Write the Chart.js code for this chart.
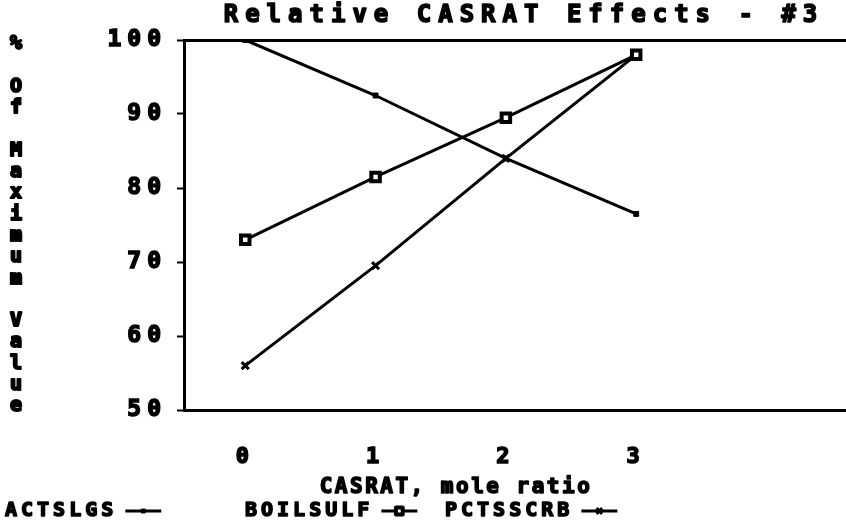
<!DOCTYPE html>
<html>
<head>
<meta charset="utf-8">
<script src="https://cdn.jsdelivr.net/npm/chart.js@4"></script>
<style>
html, body { margin: 0; padding: 0; background: #fff; }
#wrap { position: relative; width: 846px; height: 524px; }
</style>
</head>
<body>
<div id="wrap"><canvas id="casratChart" width="846" height="524"></canvas></div>
<script>
// Data
const casrat = [0, 1, 2, 3];
const actslgs = [100, 92.5, 84, 76.5];
const boilsulf = [73, 81.5, 89.5, 98];
const pctsscrb = [56, 69.5, 84, 98];
const xTicks = [0, 1, 2, 3];
const yTicks = [50, 60, 70, 80, 90, 100];
const chartTitle = 'Relative CASRAT Effects - #3';
const xTitle = 'CASRAT, mole ratio';
const yTitle = ['%', '', 'O', 'f', '', 'M', 'a', 'x', 'i', 'm', 'u', 'm', '', 'V', 'a', 'l', 'u', 'e'];

const FONT = '"DejaVu Sans Mono", monospace';

function toPoints(values) {
    return values.map((v, i) => ({ x: casrat[i], y: v }));
}

// fill then stroke so the thin font looks like the heavy printer font
function heavyText(ctx, text, x, y, stroke) {
    ctx.fillText(text, x, y);
    ctx.lineWidth = stroke;
    ctx.strokeText(text, x, y);
}

// Text extras: title, x title, stacked y label, legend after the text
const extrasPlugin = {
    id: 'extras',
    beforeLayout(chart) {
        chart.ctx.letterSpacing = '6px';
    },
    beforeDraw(chart) {
        chart.ctx.letterSpacing = '6px';
    },
    afterDraw(chart) {
        const ctx = chart.ctx;
        ctx.save();
        ctx.fillStyle = '#000';
        ctx.strokeStyle = '#000';
        ctx.lineJoin = 'round';

        // chart title
        ctx.letterSpacing = '7px';
        ctx.font = 'bold 24px ' + FONT;
        ctx.textAlign = 'center';
        ctx.textBaseline = 'middle';
        heavyText(ctx, chartTitle, 524, 16, 1.6);

        // x axis title
        ctx.letterSpacing = '2.5px';
        ctx.font = 'bold 21px ' + FONT;
        heavyText(ctx, xTitle, 456, 488, 1.6);

        // stacked y axis title
        ctx.letterSpacing = '0px';
        ctx.font = 'bold 20px ' + FONT;
        yTitle.forEach((ch, i) => {
            if (ch) heavyText(ctx, ch, 16, 44 + i * 21.3, 2);
        });

        // legend: label then a line sample with the marker
        ctx.letterSpacing = '4px';
        ctx.font = 'bold 20px ' + FONT;
        ctx.textAlign = 'left';
        const legendX = [5, 245, 445];
        chart.data.datasets.forEach((ds, i) => {
            const x0 = legendX[i];
            ctx.fillStyle = '#000';
            heavyText(ctx, ds.label, x0, 511, 1.6);
            const w = ctx.measureText(ds.label).width;
            const lx = x0 + w + 8;
            ctx.lineWidth = 3;
            ctx.beginPath();
            ctx.moveTo(lx, 511);
            ctx.lineTo(lx + 36, 511);
            ctx.stroke();
            ctx.fillStyle = ds.pointBackgroundColor;
            ctx.lineWidth = ds.pointBorderWidth;
            Chart.helpers.drawPoint(ctx, {
                pointStyle: ds.pointStyle,
                radius: ds.pointRadius * 0.8,
                borderWidth: ds.pointBorderWidth,
                rotation: 0
            }, lx + 18, 511);
        });
        ctx.restore();
    }
};

const tickFont = size => ({ family: FONT, size: size, weight: 'bold' });

const ctx = document.getElementById('casratChart').getContext('2d');
const casratChart = new Chart(ctx, {
    type: 'line',
    data: {
        datasets: [
            {
                label: 'ACTSLGS',
                data: toPoints(actslgs),
                borderColor: '#000',
                borderWidth: 3,
                pointStyle: 'rect',
                pointRadius: 3.5,
                pointBackgroundColor: '#000',
                pointBorderColor: '#000',
                pointBorderWidth: 1
            },
            {
                label: 'BOILSULF',
                data: toPoints(boilsulf),
                borderColor: '#000',
                borderWidth: 3,
                pointStyle: 'rect',
                pointRadius: 6,
                pointBackgroundColor: '#fff',
                pointBorderColor: '#000',
                pointBorderWidth: 4
            },
            {
                label: 'PCTSSCRB',
                data: toPoints(pctsscrb),
                borderColor: '#000',
                borderWidth: 3,
                pointStyle: 'crossRot',
                pointRadius: 5,
                pointBackgroundColor: '#000',
                pointBorderColor: '#000',
                pointBorderWidth: 3
            }
        ]
    },
    options: {
        responsive: false,
        animation: false,
        devicePixelRatio: 1,
        layout: { autoPadding: false, padding: { top: 40, right: 0, left: 0, bottom: 0 } },
        scales: {
            x: {
                type: 'linear',
                min: -0.47,
                max: 4.61,
                afterBuildTicks: scale => { scale.ticks = xTicks.map(v => ({ value: v })); },
                afterFit: scale => {
                    scale.height = 114;
                    scale.paddingLeft = 0;
                    scale.paddingRight = 0;
                },
                grid: { display: false, drawTicks: false },
                border: { display: true, color: '#000', width: 3 },
                ticks: {
                    color: '#000',
                    padding: 34,
                    maxRotation: 0,
                    textStrokeColor: '#000',
                    textStrokeWidth: 1.6,
                    font: tickFont(22)
                }
            },
            y: {
                min: 50,
                max: 100,
                afterBuildTicks: scale => { scale.ticks = yTicks.map(v => ({ value: v })); },
                afterFit: scale => {
                    scale.width = 184;
                    scale.paddingTop = 0;
                    scale.paddingBottom = 0;
                },
                grid: {
                    color: c => (c.tick && c.tick.value === 100 ? '#000' : 'rgba(0,0,0,0)'),
                    lineWidth: 3,
                    tickColor: '#000',
                    tickWidth: 2,
                    tickLength: 7
                },
                border: { display: true, color: '#000', width: 3 },
                ticks: {
                    color: '#000',
                    padding: 10,
                    textStrokeColor: '#000',
                    textStrokeWidth: 1.6,
                    font: tickFont(23)
                }
            }
        },
        plugins: {
            legend: { display: false },
            tooltip: { enabled: false },
            title: { display: false }
        }
    },
    plugins: [extrasPlugin]
});
</script>
</body>
</html>
